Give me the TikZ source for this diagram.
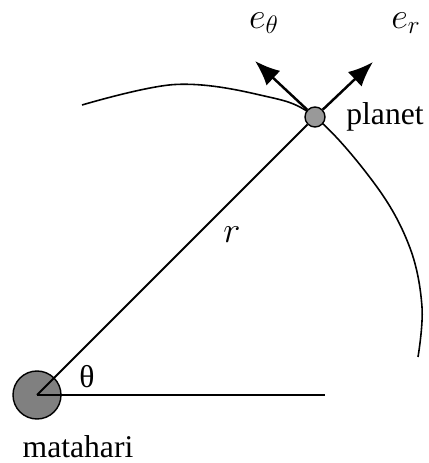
\documentclass[tikz,border=0pt]{standalone}
\usepackage{fontspec}
\setmainfont{Liberation Serif}
\usetikzlibrary{arrows.meta}

\begin{document}
\begin{tikzpicture}[>={Latex[length=5mm,width=4mm]}]

% --- Styles ---
\tikzset{
    body/.style={circle, draw=black, thick, inner sep=0pt},
    sunbody/.style={body, fill=black!50, minimum size=0.96cm},
    planetbody/.style={body, fill=black!40, minimum size=0.40cm},
    radius/.style={line width=1.2pt, draw=black},
    orbit/.style={line width=0.9pt, draw=black},
    axis/.style={line width=0.7pt, draw=black},
    unitvec/.style={->, line width=1.4pt, draw=black},
    lbl/.style={font=\fontsize{18}{20}\selectfont},
    mlbl/.style={font=\fontsize{21}{24}\selectfont}
}

\useasboundingbox (0,0) rectangle (8.56,9.26);

% --- Lintasan (orbit) ---
\draw[orbit] plot[smooth, tension=0.6] coordinates
    {(1.64,7.16) (3.50,7.57) (5.20,7.36) (6.30,6.92)
     (7.54,5.52) (8.20,4.30) (8.44,3.12) (8.36,2.12)};

% --- Matahari en planet ---
\node[sunbody] (sun) at (0.74,1.36) {};
\node[planetbody] (planet) at (6.30,6.92) {};

% --- Jari-jari en sumbu ---
\coordinate (axisEnd) at (6.50,1.36);
\draw[radius] (sun.center) -- (planet);
\draw[axis] (sun.center) -- (axisEnd);

% --- Vektor satuan ---
\coordinate (erTip) at (7.46,8.02);
\coordinate (ethTip) at (5.10,8.04);
\draw[unitvec] (planet) -- (erTip);
\draw[unitvec] (planet) -- (ethTip);

% --- Label ---
\node[lbl] (thetaLbl) at (1.74,1.72) {θ};
\node[mlbl] (rLbl) at (4.64,4.56) {$r$};
\node[lbl, anchor=west, inner sep=0pt] (planetLbl) at (6.92,6.92) {planet};
\node[lbl] (sunLbl) at (1.56,0.32) {matahari};
\node[mlbl] (ethLbl) at (5.28,8.80) {$e_\theta$};
\node[mlbl] (erLbl) at (8.12,8.80) {$e_r$};

\end{tikzpicture}
\end{document}
